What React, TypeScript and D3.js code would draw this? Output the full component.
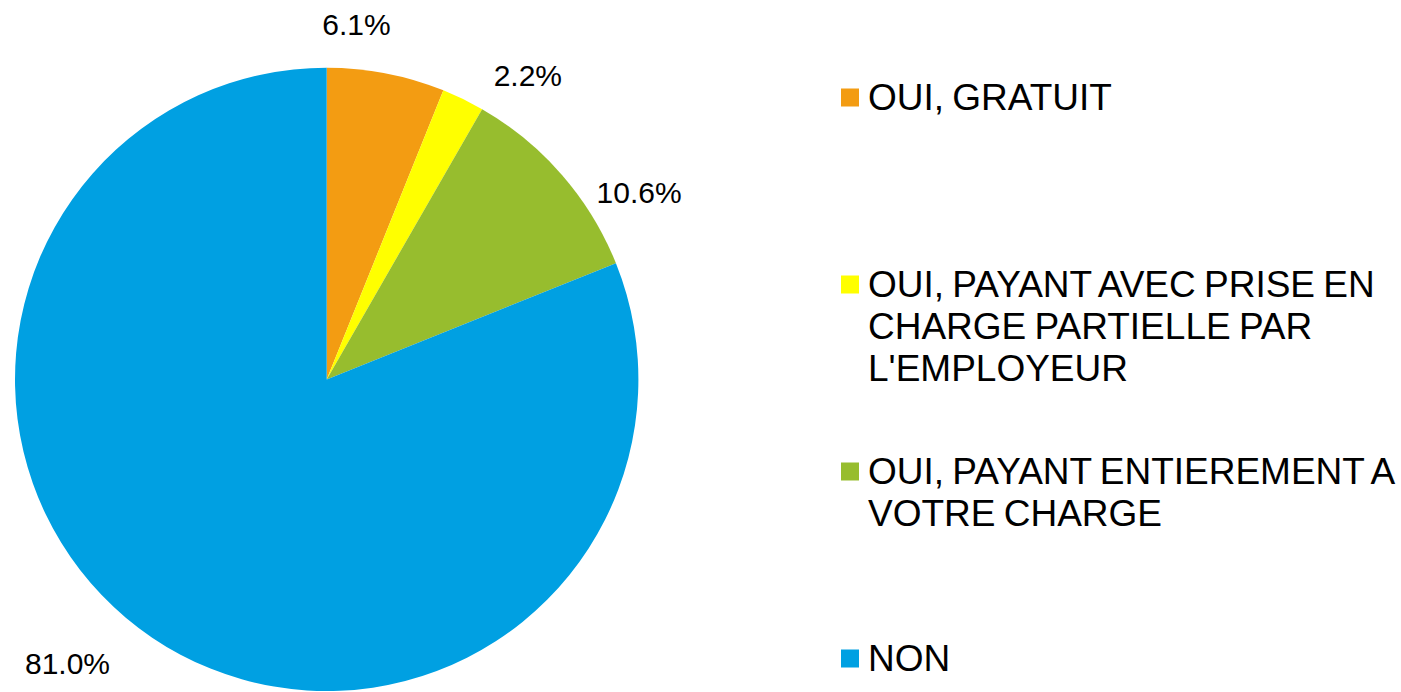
import React from "react";
import * as d3 from "d3";

const categories = [
  "OUI, GRATUIT",
  "OUI, PAYANT AVEC PRISE EN CHARGE PARTIELLE PAR L'EMPLOYEUR",
  "OUI, PAYANT ENTIEREMENT A VOTRE CHARGE",
  "NON",
];
const legendLines = [
  ["OUI, GRATUIT"],
  ["OUI, PAYANT AVEC PRISE EN", "CHARGE PARTIELLE PAR", "L'EMPLOYEUR"],
  ["OUI, PAYANT ENTIEREMENT A", "VOTRE CHARGE"],
  ["NON"],
];
const values = [6.1, 2.2, 10.6, 81.0];
const colors = ["#F39C12", "#FFFF00", "#97BD2E", "#00A0E2"];

// label placement styling (angle nudge in degrees, distance from centre)
const labelNudgeDeg = [-6.2, 7.5, 10.1, 8.4];
const labelDist = [356, 365, 364, 384];

const W = 1401;
const H = 692;
const cx = 326.7;
const cy = 379.4;
const R = 311.7;

export default function App() {
  const pie = d3
    .pie<number>()
    .sort(null)
    .value((d) => d);
  const arcs = pie(values);
  const arcGen = d3.arc<d3.PieArcDatum<number>>().innerRadius(0).outerRadius(R);

  const legendY = d3
    .scaleLinear()
    .domain([0, categories.length - 1])
    .range([109.5, 670.5]);

  const font = "'Liberation Sans', Arial, sans-serif";

  return (
    <svg
      width={W}
      height={H}
      style={{ position: "absolute", left: 0, top: 0, background: "#fff" }}
    >
      <g transform={`translate(${cx},${cy})`}>
        {arcs.map((a, i) => (
          <path key={i} d={arcGen(a) || ""} fill={colors[i]} />
        ))}
        {arcs.map((a, i) => {
          const mid = (a.startAngle + a.endAngle) / 2 + (labelNudgeDeg[i] * Math.PI) / 180;
          const d = labelDist[i];
          const x = Math.sin(mid) * d;
          const y = -Math.cos(mid) * d;
          return (
            <text
              key={i}
              x={x}
              y={y + 10.8}
              textAnchor="middle"
              fontFamily={font}
              fontSize={30}
              fill="#000"
            >
              {values[i].toFixed(1)}%
            </text>
          );
        })}
      </g>
      <g>
        {legendLines.map((lines, i) => {
          const by = legendY(i);
          return (
            <g key={i}>
              <rect x={841} y={by - 21} width={18} height={18} fill={colors[i]} />
              <text fontFamily={font} fontSize={37} wordSpacing={-2} fill="#000">
                {lines.map((ln, j) => (
                  <tspan key={j} x={868} y={by + j * 42}>
                    {ln}
                  </tspan>
                ))}
              </text>
            </g>
          );
        })}
      </g>
    </svg>
  );
}
